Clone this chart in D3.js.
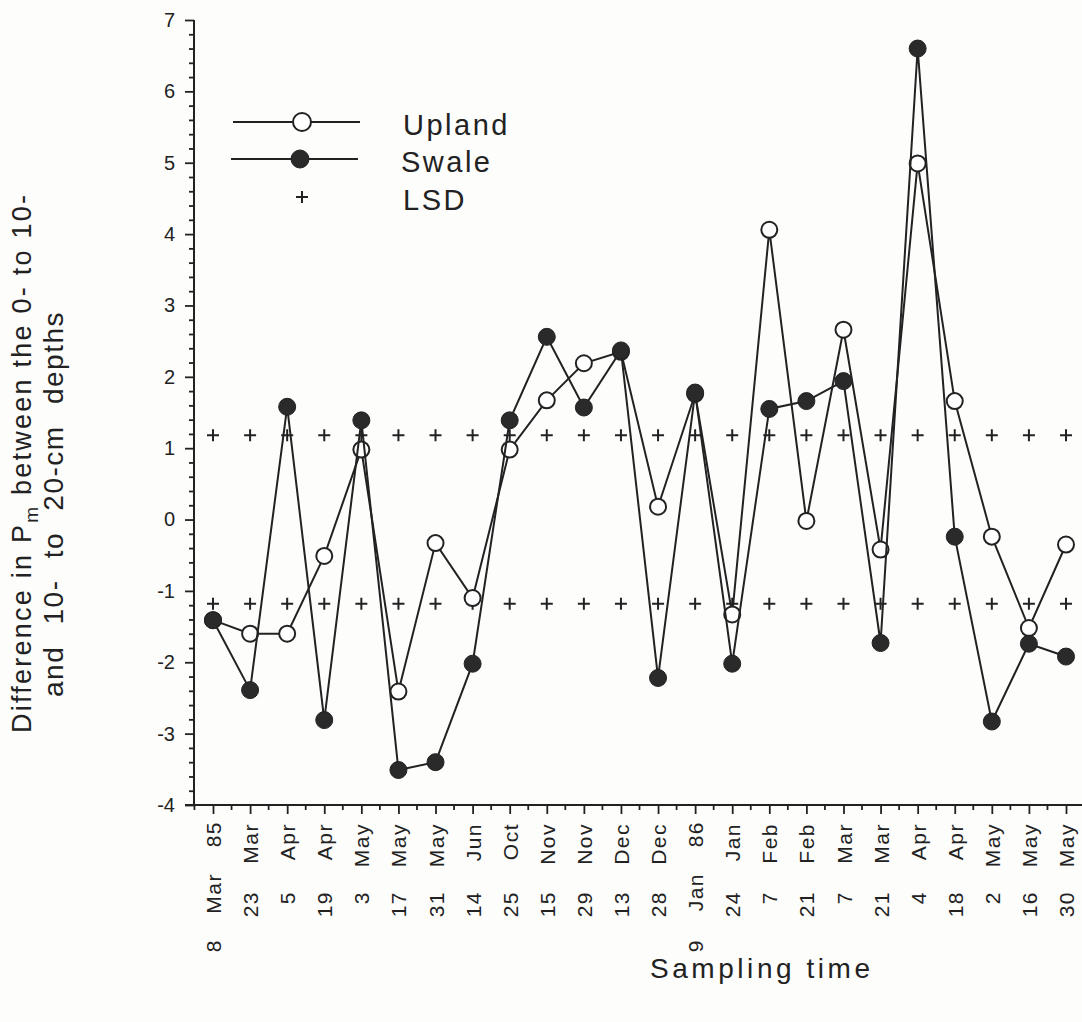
<!DOCTYPE html>
<html>
<head>
<meta charset="utf-8">
<script src="https://cdn.jsdelivr.net/npm/d3@7/dist/d3.min.js"></script>
<style>
  html, body { margin: 0; padding: 0; background: #fdfdfc; }
  svg { display: block; }
  text { font-family: "Liberation Sans", Arial, Helvetica, sans-serif; fill: #222; }
</style>
</head>
<body>
<svg id="chart" width="1082" height="1022"></svg>
<script>
// ---- data ----
const categories = ["8 Mar 85","23 Mar","5 Apr","19 Apr","3 May","17 May","31 May","14 Jun",
  "25 Oct","15 Nov","29 Nov","13 Dec","28 Dec","9 Jan 86","24 Jan","7 Feb","21 Feb","7 Mar",
  "21 Mar","4 Apr","18 Apr","2 May","16 May","30 May"];
const upland = [-1.41, -1.60, -1.60, -0.51, 0.98, -2.41, -0.33, -1.10, 0.98, 1.67, 2.19, 2.35,
  0.18, 1.76, -1.33, 4.06, -0.02, 2.66, -0.42, 4.99, 1.66, -0.24, -1.52, -0.35];
const swale = [-1.41, -2.39, 1.58, -2.81, 1.39, -3.51, -3.40, -2.02, 1.39, 2.56, 1.57, 2.37,
  -2.22, 1.78, -2.02, 1.55, 1.66, 1.94, -1.73, 6.60, -0.24, -2.83, -1.74, -1.92];
const lsd = [1.18, 1.18, 1.18, 1.18, 1.18, 1.18, 1.18, 1.18, 1.18, 1.18, 1.18, 1.18,
  1.18, 1.18, 1.18, 1.18, 1.18, 1.18, 1.18, 1.18, 1.18, 1.18, 1.18, 1.18];
const yTicks = [-4, -3, -2, -1, 0, 1, 2, 3, 4, 5, 6, 7];
const legendLabels = ["Upland", "Swale", "LSD"];

// ---- setup ----
const ink = "#222";
const svg = d3.select("#chart");
const x = d3.scalePoint().domain(categories).range([213, 1066]);
const xi = d3.scaleLinear().domain([0, categories.length - 1]).range([213, 1066]);
const y = d3.scaleLinear().domain([-4, 7]).range([805, 20]);

// ---- axes ----
svg.append("line").attr("x1", 185).attr("x2", 1082).attr("y1", y(-4)).attr("y2", y(-4))
  .attr("stroke", ink).attr("stroke-width", 2);
svg.append("line").attr("x1", 194).attr("x2", 194).attr("y1", y(7)).attr("y2", y(-4))
  .attr("stroke", ink).attr("stroke-width", 2);

// y minor ticks
const yMinor = d3.range(-4, 7.001, 0.2).filter(v => Math.abs(v - Math.round(v)) > 0.01);
svg.append("g").attr("transform", "translate(194,0)")
  .call(d3.axisLeft(y).tickValues(yMinor).tickSize(5).tickFormat(""))
  .call(g => g.select(".domain").remove())
  .call(g => g.selectAll("line").attr("stroke", ink).attr("stroke-width", 1.8));
// y major ticks
svg.append("g").attr("transform", "translate(194,0)")
  .call(d3.axisLeft(y).tickValues(yTicks).tickSize(9).tickPadding(10).tickFormat(d => String(d)))
  .call(g => g.select(".domain").remove())
  .call(g => g.selectAll("line").attr("stroke", ink).attr("stroke-width", 1.8))
  .call(g => g.selectAll("text").attr("font-size", 20).attr("fill", ink)
      .attr("font-family", "Liberation Sans, Arial, sans-serif"));

// x minor ticks (half way)
const xMinor = d3.range(-0.5, categories.length, 1);
svg.append("g").selectAll("line").data(xMinor).join("line")
  .attr("x1", d => xi(d)).attr("x2", d => xi(d))
  .attr("y1", y(-4)).attr("y2", y(-4) + 5)
  .attr("stroke", ink).attr("stroke-width", 1.8);

// x major ticks with labels
const xAxis = svg.append("g").attr("transform", `translate(0,${y(-4)})`)
  .call(d3.axisBottom(x).tickSize(9).tickFormat(""))
  .call(g => g.select(".domain").remove())
  .call(g => g.selectAll("line").attr("stroke", ink).attr("stroke-width", 1.8));

xAxis.selectAll(".tick").each(function(d) {
  const parts = d.split(" ");
  const g = d3.select(this);
  let pieces;
  if (parts.length === 3) {
    pieces = [[parts[2], 16], [parts[1], 68], [parts[0], 134]];
  } else {
    pieces = [[parts[1], 18], [parts[0], 86]];
  }
  pieces.forEach(([t, off]) => {
    g.append("text")
      .attr("transform", `translate(0,${off}) rotate(-90)`)
      .attr("text-anchor", "end")
      .attr("dy", "0.36em")
      .attr("font-size", 21)
      .attr("letter-spacing", 1.5)
      .attr("fill", ink)
      .text(t);
  });
});

// axis titles
svg.append("text")
  .attr("x", 650).attr("y", 978)
  .attr("font-size", 28)
  .attr("textLength", 220).attr("lengthAdjust", "spacing")
  .text("Sampling time");

const yt1 = svg.append("text")
  .attr("transform", "translate(31,733) rotate(-90)")
  .attr("font-size", 27)
  .attr("textLength", 538).attr("lengthAdjust", "spacing");
yt1.append("tspan").text("Difference in P");
yt1.append("tspan").attr("font-size", 19).attr("dy", 7).text("m");
yt1.append("tspan").attr("dy", -7).text(" between the 0- to 10-");

svg.append("text")
  .attr("transform", "translate(63,697) rotate(-90)")
  .attr("font-size", 28)
  .attr("letter-spacing", 1.5)
  .attr("word-spacing", 12)
  .text("and 10- to 20-cm depths");

// ---- LSD markers ----
const plus = "M-6,0H6M0,-6V6";
const lsdG = svg.append("g");
lsd.forEach((v, i) => {
  [v, -v].forEach(val => {
    lsdG.append("path")
      .attr("d", plus)
      .attr("transform", `translate(${x(categories[i])},${y(val)})`)
      .attr("stroke", ink).attr("stroke-width", 2).attr("fill", "none");
  });
});

// ---- series ----
const line = d3.line().x((d, i) => x(categories[i])).y(d => y(d));

svg.append("path").datum(upland).attr("d", line)
  .attr("fill", "none").attr("stroke", ink).attr("stroke-width", 2);
svg.append("g").selectAll("circle").data(upland).join("circle")
  .attr("cx", (d, i) => x(categories[i])).attr("cy", d => y(d)).attr("r", 8)
  .attr("fill", "#fff").attr("stroke", ink).attr("stroke-width", 2);

svg.append("path").datum(swale).attr("d", line)
  .attr("fill", "none").attr("stroke", ink).attr("stroke-width", 2);
svg.append("g").selectAll("circle").data(swale).join("circle")
  .attr("cx", (d, i) => x(categories[i])).attr("cy", d => y(d)).attr("r", 8.5)
  .attr("fill", "#2a2a2a").attr("stroke", ink).attr("stroke-width", 1);

// ---- legend ----
const leg = svg.append("g");
const legY = [122, 159, 197];
leg.append("line").attr("x1", 233).attr("x2", 360).attr("y1", legY[0]).attr("y2", legY[0])
  .attr("stroke", ink).attr("stroke-width", 2);
leg.append("circle").attr("cx", 302).attr("cy", legY[0]).attr("r", 9)
  .attr("fill", "#fff").attr("stroke", ink).attr("stroke-width", 2);
leg.append("line").attr("x1", 231).attr("x2", 358).attr("y1", legY[1]).attr("y2", legY[1])
  .attr("stroke", ink).attr("stroke-width", 2);
leg.append("circle").attr("cx", 300).attr("cy", legY[1]).attr("r", 9)
  .attr("fill", "#2a2a2a").attr("stroke", ink).attr("stroke-width", 1);
leg.append("path").attr("d", plus).attr("transform", `translate(302,${legY[2]})`)
  .attr("stroke", ink).attr("stroke-width", 2).attr("fill", "none");

legendLabels.forEach((t, i) => {
  leg.append("text")
    .attr("x", i === 1 ? 401 : 403).attr("y", legY[i] + 13)
    .attr("font-size", 29).attr("letter-spacing", 2.5)
    .text(t);
});
</script>
</body>
</html>
